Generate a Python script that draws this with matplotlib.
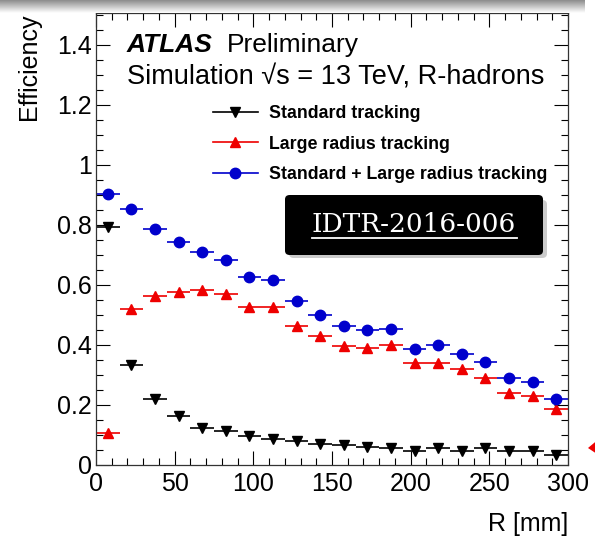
import matplotlib
matplotlib.use("Agg")
import matplotlib.pyplot as plt
import numpy as np
from matplotlib.lines import Line2D
from matplotlib.patches import FancyBboxPatch, Polygon
from matplotlib.ticker import MultipleLocator

plt.rcParams["font.family"] = ["Liberation Sans", "DejaVu Sans"]

# 20 bins of 15 mm in R
bin_edges = np.arange(0, 301, 15)
r_centres = (bin_edges[:-1] + bin_edges[1:]) / 2
r_halfwidth = np.diff(bin_edges) / 2

eff_standard = [0.792, 0.332, 0.219, 0.163, 0.124, 0.114, 0.097, 0.087, 0.080, 0.069,
                0.066, 0.061, 0.058, 0.047, 0.057, 0.048, 0.056, 0.047, 0.046, 0.033]
eff_large = [0.108, 0.519, 0.563, 0.576, 0.582, 0.568, 0.527, 0.527, 0.463, 0.428,
             0.396, 0.389, 0.398, 0.338, 0.341, 0.320, 0.290, 0.239, 0.230, 0.186]
eff_combined = [0.903, 0.853, 0.786, 0.741, 0.708, 0.682, 0.627, 0.617, 0.547, 0.498,
                0.463, 0.450, 0.453, 0.387, 0.398, 0.371, 0.342, 0.290, 0.278, 0.220]

series = [
    ("Standard tracking", eff_standard, "black", "v", 6.5),
    ("Large radius tracking", eff_large, "#ee0000", "^", 6.5),
    ("Standard + Large radius tracking", eff_combined, "#0000cc", "o", 7.5),
]

fig = plt.figure(figsize=(5.95, 5.40), dpi=100)
W, H = 595, 540

ax = fig.add_axes([96 / W, 75 / H, 472 / W, 452 / H])
handles = []
for label, vals, colour, marker, ms in series:
    ax.errorbar(r_centres, vals, xerr=r_halfwidth, fmt=marker, color=colour,
                markersize=ms, elinewidth=1.2, capsize=0)
    handles.append(Line2D([], [], color=colour, marker=marker, markersize=ms,
                          lw=1.2, label=label))

ax.set_xlim(0, 300)
ax.set_ylim(0, 1.505)
ax.xaxis.set_major_locator(MultipleLocator(50))
ax.xaxis.set_minor_locator(MultipleLocator(10))
ax.yaxis.set_minor_locator(MultipleLocator(0.05))
ax.set_yticks([0, 0.2, 0.4, 0.6, 0.8, 1.0, 1.2, 1.4])
ax.set_yticklabels(["0", "0.2", "0.4", "0.6", "0.8", "1", "1.2", "1.4"])
ax.tick_params(which="both", direction="in", top=True, right=True, labelsize=18, width=0.8)
ax.tick_params(which="major", length=10)
ax.tick_params(which="minor", length=5)
ax.tick_params(axis="x", pad=5)
ax.tick_params(axis="y", pad=3)
for s in ax.spines.values():
    s.set_linewidth(0.9)
    s.set_color("#333333")

ax.set_ylabel("Efficiency", fontsize=18, loc="top")
ax.yaxis.set_label_coords(-0.117, 1.0)
ax.set_xlabel("R [mm]", fontsize=18, loc="right")
ax.xaxis.set_label_coords(1.0, -0.105)

ax.text(0.065, 0.914, "ATLAS", transform=ax.transAxes, fontsize=19,
        fontweight="bold", fontstyle="italic", va="baseline")
ax.text(0.278, 0.914, "Preliminary", transform=ax.transAxes, fontsize=19, va="baseline")
ax.text(0.065, 0.841, "Simulation √s = 13 TeV, R-hadrons",
        transform=ax.transAxes, fontsize=19.5, va="baseline")

ax.legend(handles=handles, loc="upper left", bbox_to_anchor=(0.248, 0.796), frameon=False,
          prop={"weight": "bold", "size": 12.8}, handlelength=2.5,
          handletextpad=0.65, labelspacing=0.76, borderaxespad=0, borderpad=0)

# grey shadow strip along the top of the slide crop
shade = fig.add_axes([0, 1 - 13 / H, 585 / W, 13 / H])
grad = np.linspace(0.55, 1.0, 50).reshape(-1, 1)
shade.imshow(np.repeat(grad, 10, axis=1), cmap="gray", vmin=0, vmax=1,
             aspect="auto", extent=[0, 1, 0, 1], origin="upper")
shade.axis("off")

# document tag box
fig.patches.append(FancyBboxPatch((289 / W, (H - 258) / H), 258 / W, 58 / H,
                                  boxstyle="round,pad=0,rounding_size=0.008",
                                  transform=fig.transFigure, facecolor="#999999",
                                  edgecolor="none", alpha=0.5, zorder=5))
fig.patches.append(FancyBboxPatch((285 / W, (H - 255) / H), 258 / W, 60 / H,
                                  boxstyle="round,pad=0,rounding_size=0.008",
                                  transform=fig.transFigure, facecolor="black",
                                  edgecolor="none", zorder=6))
fig.text(414 / W, (H - 224) / H, "IDTR-2016-006", color="white", fontsize=19,
         family="DejaVu Serif", ha="center", va="center", zorder=7)
fig.lines.append(Line2D([312 / W, 517 / W], [(H - 238) / H] * 2,
                        transform=fig.transFigure, color="white", lw=1.3, zorder=7))

# red corner of a neighbouring slide marker
fig.patches.append(Polygon([[588 / W, (H - 448) / H], [600 / W, (H - 438) / H],
                            [600 / W, (H - 456) / H]], closed=True,
                           transform=fig.transFigure, facecolor="#ee0000",
                           edgecolor="none"))

fig.savefig("out.png", dpi=100, facecolor="white")
